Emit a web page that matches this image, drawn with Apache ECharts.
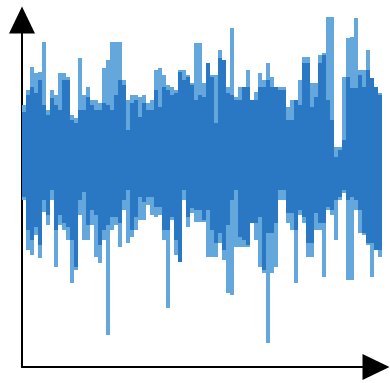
<!DOCTYPE html>
<html>
<head>
<meta charset="utf-8">
<script src="https://cdn.jsdelivr.net/npm/echarts@6/dist/echarts.min.js"></script>
<style>html,body{margin:0;padding:0;background:#fff;}#c{width:390px;height:383px;}</style>
</head>
<body>
<div id="c"></div>
<script>
// Signal envelope per sample bin (arbitrary amplitude units)
const lightTop = [5.0,6.5,8.8,8.2,8.3,11.3,4.5,6.5,6.0,8.2,8.2,7.8,4.0,3.7,9.7,6.0,6.8,5.5,5.5,5.2,8.7,9.5,11.3,11.3,11.3,7.5,5.5,6.0,6.0,5.8,6.0,5.2,5.5,8.5,8.7,8.0,7.0,6.8,6.5,8.5,8.5,8.0,7.2,11.2,11.2,7.2,9.2,8.0,8.0,10.5,9.5,6.8,12.7,5.8,6.8,6.8,8.5,5.5,6.3,8.2,7.5,9.2,7.8,6.8,6.8,6.8,4.8,5.5,5.5,7.5,9.8,9.8,7.2,7.2,10.0,10.2,13.8,13.8,0.8,0.8,7.8,11.7,11.8,13.7,8.5,8.5,10.5,7.7,6.8,6.2];
const darkTop = [4.3,6.0,6.8,6.2,7.5,5.0,4.0,5.7,5.0,4.5,7.5,7.5,3.5,3.2,4.5,4.5,5.8,5.0,4.5,4.5,5.2,5.0,4.5,6.0,7.5,7.0,2.5,5.2,5.5,3.8,5.2,4.5,4.5,6.5,4.8,6.8,6.5,6.0,6.2,8.3,7.5,7.8,7.0,5.5,6.0,5.8,9.2,7.8,3.2,9.7,9.5,6.2,6.0,5.5,5.5,6.8,6.8,5.5,5.5,6.8,6.8,7.5,6.8,6.8,6.5,6.5,3.5,3.5,5.5,5.0,9.2,9.2,4.8,5.8,9.2,10.0,5.5,3.5,-0.2,0.5,1.5,7.8,6.7,6.7,8.0,6.8,8.5,7.7,6.8,6.0];
const darkBottom = [-4.2,-7.5,-8.5,-7.2,-9.0,-4.5,-6.0,-3.5,-7.5,-6.0,-6.8,-7.2,-8.5,-11.2,-4.5,-3.7,-7.0,-5.5,-6.0,-9.0,-7.5,-7.0,-6.2,-6.2,-6.8,-4.5,-3.5,-7.5,-6.2,-4.2,-4.7,-4.2,-4.2,-5.2,-5.2,-7.5,-7.5,-6.2,-8.5,-10.7,-3.5,-6.2,-5.3,-5.5,-5.5,-6.5,-5.5,-7.5,-8.8,-7.8,-9.5,-7.0,-4.5,-3.5,-8.2,-8.5,-9.0,-6.8,-6.8,-6.2,-11.5,-7.8,-7.8,-6.8,-3.5,-3.5,-5.8,-5.8,-7.5,-5.5,-6.2,-8.8,-8.8,-5.8,-6.8,-6.8,-5.2,-5.5,-4.5,-4.2,-3.5,-4.5,-4.2,-4.5,-5.5,-7.8,-8.8,-8.8,-9.5,-9.5];
const lightBottom = [-4.5,-9.5,-10.0,-8.0,-10.3,-5.7,-7.0,-4.5,-11.2,-7.0,-7.5,-8.5,-12.8,-11.5,-6.0,-8.5,-8.5,-7.0,-10.2,-10.8,-8.5,-18.0,-7.5,-7.0,-9.2,-5.5,-8.8,-8.2,-7.5,-6.5,-6.5,-5.0,-6.0,-6.2,-6.0,-8.5,-15.3,-6.5,-10.0,-10.7,-4.5,-7.2,-5.8,-6.7,-6.7,-6.7,-10.2,-10.2,-10.2,-8.8,-10.5,-13.8,-14.0,-9.2,-9.2,-9.2,-9.2,-6.8,-8.5,-11.2,-11.8,-18.8,-11.8,-11.2,-4.5,-4.5,-6.8,-7.5,-12.8,-6.0,-6.8,-10.2,-10.2,-7.5,-7.5,-12.2,-5.5,-6.0,-8.5,-4.5,-3.8,-12.5,-12.5,-5.5,-7.8,-8.0,-9.0,-12.2,-9.5,-10.2];

const data = lightTop.map((v, i) => [i, v, darkTop[i], darkBottom[i], lightBottom[i]]);

const LIGHT = '#63a7dd';
const DARK = '#2a78c3';

const chart = echarts.init(document.getElementById('c'), null, {renderer: 'canvas'});
const axisCommon = {
  axisLine: {show: true, onZero: false, symbol: ['none', 'triangle'], symbolSize: [26, 27],
    lineStyle: {color: '#000', width: 2}},
  axisTick: {show: false}, axisLabel: {show: false}, splitLine: {show: false}
};
chart.setOption({
  animation: false,
  backgroundColor: '#fff',
  grid: {left: 22, right: 14, top: 20, bottom: 16},
  xAxis: Object.assign({type: 'value', min: 0, max: 88.5}, axisCommon),
  yAxis: Object.assign({type: 'value', min: -21.2, max: 13.5}, axisCommon),
  series: [{
    type: 'custom',
    clip: false,
    data: data,
    encode: {x: 0, y: [1, 2, 3, 4]},
    renderItem: function (params, api) {
      const i = api.value(0);
      const a = api.coord([i, api.value(1)]);
      const b = api.coord([i + 1, api.value(4)]);
      const c = api.coord([i, api.value(2)]);
      const d = api.coord([i + 1, api.value(3)]);
      return {type: 'group', children: [
        {type: 'rect', shape: {x: a[0], y: a[1], width: b[0] - a[0], height: b[1] - a[1]}, style: {fill: LIGHT}},
        {type: 'rect', shape: {x: c[0], y: c[1], width: d[0] - c[0], height: d[1] - c[1]}, style: {fill: DARK}}
      ]};
    }
  }]
});
</script>
</body>
</html>
